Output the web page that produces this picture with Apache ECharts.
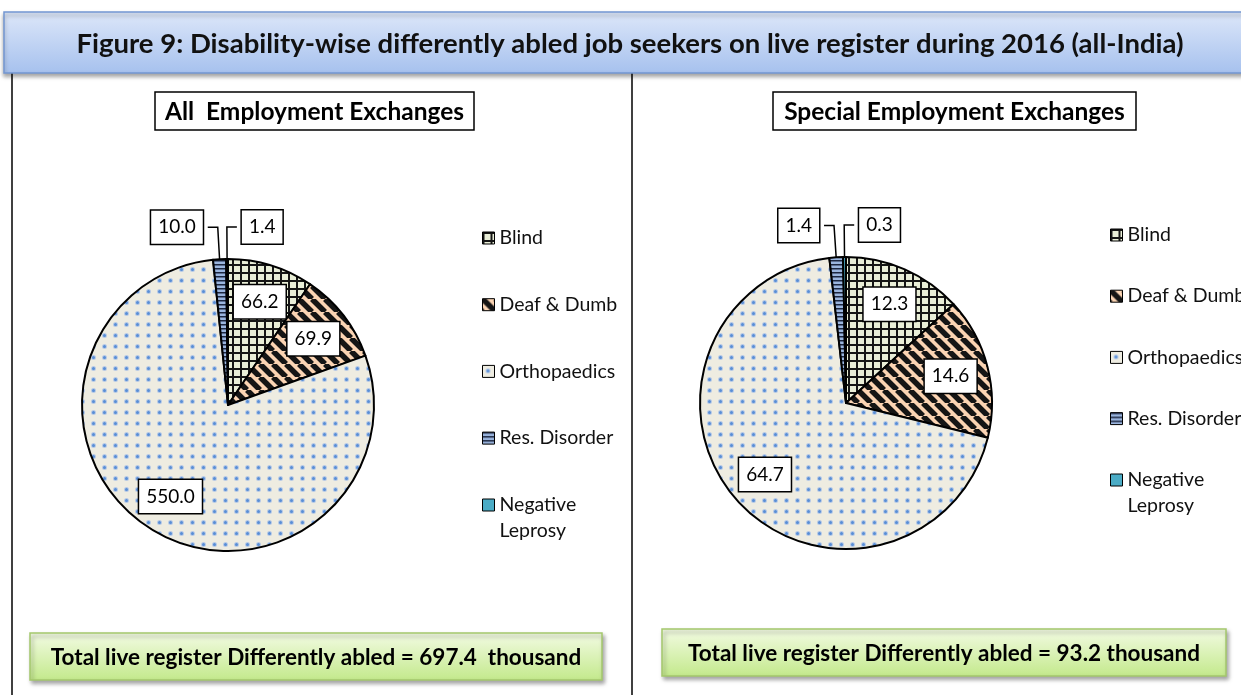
<!DOCTYPE html>
<html>
<head>
<meta charset="utf-8">
<script src="https://cdn.jsdelivr.net/npm/echarts@6/dist/echarts.min.js"></script>
<style>
  html, body { margin: 0; padding: 0; background: #fff; }
  #main { width: 1241px; height: 695px; }
</style>
</head>
<body>
<div id="main"></div>
<script>
var names = ['Blind', 'Deaf & Dumb', 'Orthopaedics', 'Res. Disorder', 'Negative Leprosy'];
var allExch = [66.2, 69.9, 550.0, 10.0, 1.4];
var specialExch = [12.3, 14.6, 64.7, 1.4, 0.3];
var panelTitles = ['All  Employment Exchanges', 'Special Employment Exchanges'];
var totals = ['697.4  thousand', '93.2 thousand'];
var figTitle = 'Figure 9: Disability-wise differently abled job seekers on live register during 2016 (all-India)';

var FONT = 'Lato, "Liberation Sans", sans-serif';

// small canvas tiles used as fill patterns
function makePattern(w, h, bg, draw) {
  var c = document.createElement('canvas');
  c.width = w;
  c.height = h;
  var ctx = c.getContext('2d');
  ctx.fillStyle = bg;
  ctx.fillRect(0, 0, w, h);
  draw(ctx);
  return { image: c, repeat: 'repeat' };
}

var fills = [
  makePattern(8, 8, '#e9eed7', function (ctx) {
    ctx.fillStyle = '#151515';
    ctx.fillRect(0, 0, 8, 2);
    ctx.fillRect(0, 0, 2, 8);
  }),
  makePattern(13, 13, '#fbd4b3', function (ctx) {
    ctx.strokeStyle = '#151515';
    ctx.lineWidth = 5.5;
    ctx.beginPath();
    [-13, 0, 13].forEach(function (k) {
      ctx.moveTo(k, 0);
      ctx.lineTo(k + 13, 13);
    });
    ctx.stroke();
  }),
  makePattern(11, 11, '#eeece1', function (ctx) {
    ctx.fillStyle = '#b6c9e6';
    ctx.beginPath();
    ctx.arc(5.5, 5.5, 2.5, 0, Math.PI * 2);
    ctx.fill();
    ctx.fillStyle = '#588ed6';
    ctx.beginPath();
    ctx.arc(5.5, 5.5, 1.5, 0, Math.PI * 2);
    ctx.fill();
  }),
  makePattern(4, 4, '#9ab5de', function (ctx) {
    ctx.fillStyle = '#1c2740';
    ctx.fillRect(0, 0, 4, 1.5);
  }),
  '#4bacc6'
];

function pieSeries(vals, center) {
  return {
    type: 'pie',
    center: center,
    radius: 146,
    startAngle: 90,
    silent: true,
    label: { show: false },
    labelLine: { show: false },
    itemStyle: { borderColor: '#000', borderWidth: 2 },
    data: names.map(function (n, i) {
      return { name: n, value: vals[i], itemStyle: { color: fills[i] } };
    })
  };
}

// last (tiny) slice label goes to the right of its leader line
function flipLast(p) {
  if (p.dataIndex !== names.length - 1 || !p.labelLinePoints) return;
  var pts = p.labelLinePoints;
  var len = Math.abs(pts[1][0] - pts[2][0]);
  var xe = pts[1][0] + len;
  return {
    x: xe + 5,
    y: pts[2][1],
    align: 'left',
    verticalAlign: 'middle',
    labelLinePoints: [[pts[0][0], pts[0][1]], [pts[1][0], pts[1][1]], [xe, pts[2][1]]]
  };
}

// transparent ring carrying the value boxes
function labelSeries(vals, center) {
  return {
    type: 'pie',
    center: center,
    radius: [64, 146],
    startAngle: 90,
    silent: true,
    avoidLabelOverlap: false,
    itemStyle: { color: 'rgba(0,0,0,0)', borderWidth: 0 },
    label: {
      formatter: function (p) { return p.value.toFixed(1); },
      color: '#000',
      fontFamily: FONT,
      fontSize: 19,
      lineHeight: 22,
      backgroundColor: '#fff',
      borderColor: '#000',
      borderWidth: 1.5,
      padding: [6, 7, 5, 7]
    },
    labelLine: { length: 32, length2: 10, lineStyle: { color: '#000', width: 1.5 } },
    labelLayout: flipLast,
    data: names.map(function (n, i) {
      var small = i >= 3;
      return {
        name: n,
        value: vals[i],
        label: { position: small ? 'outside' : 'inside' },
        labelLine: { show: small }
      };
    })
  };
}

// one legend block; the two-line entry gets its own block, with an empty
// first line so that its marker sits beside "Negative"
function legendAt(left, top, gap, items) {
  return {
    orient: 'vertical',
    left: left,
    top: top,
    padding: 0,
    itemGap: gap,
    itemWidth: 12,
    itemHeight: 12,
    icon: 'rect',
    selectedMode: false,
    data: items,
    itemStyle: { borderColor: '#000', borderWidth: 1 },
    formatter: function (n) {
      return n === names[4] ? '\n' + n.replace(' ', '\n') : n;
    },
    textStyle: {
      color: '#111',
      fontFamily: FONT,
      fontSize: 19.5,
      lineHeight: 26
    }
  };
}

function boxed(x, y, w, h, text, font, style) {
  return {
    type: 'group',
    children: [
      { type: 'rect', shape: { x: x, y: y, width: w, height: h }, style: style },
      {
        type: 'text', x: x + w / 2, y: y + h / 2 + 1,
        style: { text: text, font: font, fill: '#000', align: 'center', verticalAlign: 'middle' }
      }
    ]
  };
}

var greenStyle = {
  fill: new echarts.graphic.LinearGradient(0, 0, 0, 1, [
    { offset: 0, color: '#f3fbe4' },
    { offset: 1, color: '#c3e98b' }
  ]),
  stroke: '#a4c76c',
  lineWidth: 1.5,
  shadowBlur: 4,
  shadowOffsetX: 2,
  shadowOffsetY: 3,
  shadowColor: 'rgba(0,0,0,0.35)'
};
var plainStyle = { fill: '#fff', stroke: '#000', lineWidth: 1.5 };

var firstFour = names.slice(0, 4);
var lastOne = names.slice(4);

var chart = echarts.init(document.getElementById('main'));
chart.setOption({
  animation: false,
  legend: [
    legendAt(482, 225, 40.7, firstFour),
    legendAt(482, 466, 0, lastOne),
    legendAt(1110, 222, 35.2, firstFour),
    legendAt(1110, 441, 0, lastOne)
  ],
  graphic: [
    { type: 'line', shape: { x1: 12, y1: 72, x2: 12, y2: 695 }, style: { stroke: '#000', lineWidth: 1.5 } },
    { type: 'line', shape: { x1: 632, y1: 72, x2: 632, y2: 695 }, style: { stroke: '#000', lineWidth: 1.5 } },
    {
      type: 'rect',
      shape: { x: 4, y: 12, width: 1260, height: 61 },
      style: {
        fill: new echarts.graphic.LinearGradient(0, 0, 0, 1, [
          { offset: 0, color: '#dde7f9' },
          { offset: 1, color: '#a6c1ee' }
        ]),
        stroke: '#7396d2',
        lineWidth: 1.5,
        shadowBlur: 4,
        shadowOffsetY: 3,
        shadowColor: 'rgba(0,0,0,0.35)'
      }
    },
    {
      type: 'text', x: 630, y: 44,
      style: { text: figTitle, font: 'bold 27.5px ' + FONT, fill: '#111', align: 'center', verticalAlign: 'middle' }
    },
    boxed(155, 92, 319, 38, panelTitles[0], 'bold 24.5px ' + FONT, plainStyle),
    boxed(773, 92, 363, 38, panelTitles[1], 'bold 24.5px ' + FONT, plainStyle),
    boxed(30, 633, 572, 47, 'Total live register Differently abled = ' + totals[0], 'bold 22.5px ' + FONT, greenStyle),
    boxed(662, 629, 564, 47, 'Total live register Differently abled = ' + totals[1], 'bold 22.5px ' + FONT, greenStyle)
  ],
  series: [
    pieSeries(allExch, [228, 405]),
    labelSeries(allExch, [228, 405]),
    pieSeries(specialExch, [846, 403]),
    labelSeries(specialExch, [846, 403])
  ]
});
</script>
</body>
</html>
